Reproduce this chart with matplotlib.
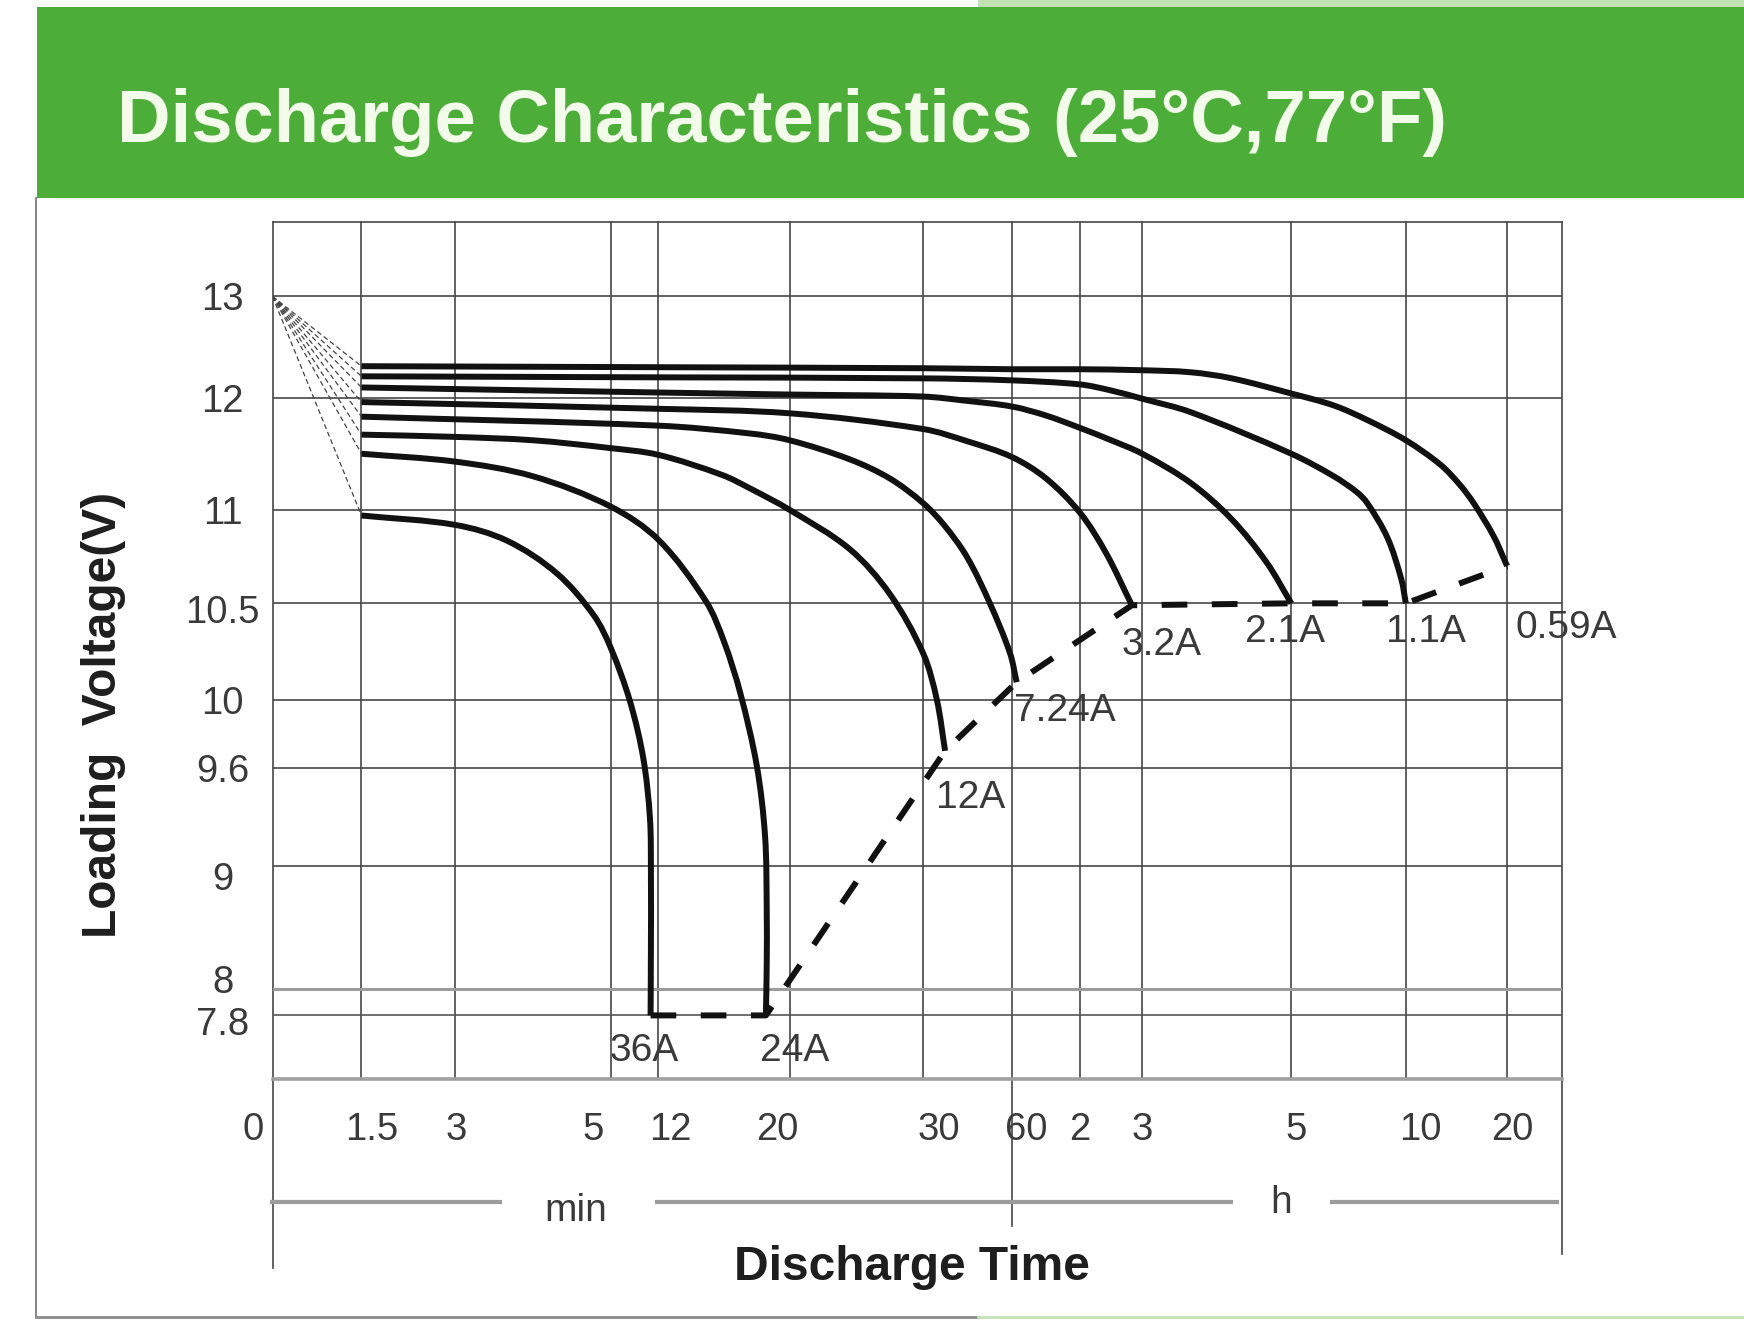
import numpy as np
import matplotlib
matplotlib.use('Agg')
import matplotlib.pyplot as plt
import matplotlib.transforms as mtransforms
from matplotlib.patches import Rectangle, PathPatch
from matplotlib.lines import Line2D
from matplotlib.path import Path

plt.rcParams['font.family'] = ['Liberation Sans', 'DejaVu Sans']

# --------------------------------------------------------------
# Axis breakpoints: the chart uses an uneven, hand-drawn time and
# voltage scale, so each labelled value gets its own position.
# --------------------------------------------------------------
TIME_BREAKS = [0, 1.5, 3, 5, 12, 20, 30, 60, 120, 180, 300, 600, 1200, 1500]   # minutes
TIME_POS = [0, 80, 164, 304, 347, 465, 585, 665, 726, 782, 916, 1019, 1110, 1159]
VOLT_BREAKS = [7.4, 7.8, 8, 9, 9.6, 10, 10.5, 11, 12, 13, 13.75]
VOLT_POS = [0, 57, 81, 191.5, 279.5, 341, 427.5, 511.5, 612.5, 703.5, 770]

x_ticks = [0, 1.5, 3, 5, 12, 20, 30, 60, 120, 180, 300, 600, 1200]
x_tick_labels = ['0', '1.5', '3', '5', '12', '20', '30', '60', '2', '3', '5', '10', '20']
y_ticks = [13, 12, 11, 10.5, 10, 9.6, 9, 8, 7.8]
y_tick_labels = ['13', '12', '11', '10.5', '10', '9.6', '9', '8', '7.8']

# open-circuit voltage every curve starts from
v_open = 13.0

# discharge curves: time (min) / voltage (V)
t_059 = [1.5, 12, 30, 60, 120, 180, 219, 252, 300, 411, 499, 600, 807, 922, 1002, 1120, 1200]
v_059 = [12.31, 12.30, 12.29, 12.28, 12.28, 12.27, 12.25, 12.19, 12.04, 11.93, 11.80, 11.62,
         11.40, 11.22, 11.06, 10.86, 10.70]

t_11 = [1.5, 12, 30, 60, 120, 150, 180, 219, 300, 411, 471, 499, 552, 588, 600]
v_11 = [12.21, 12.20, 12.19, 12.17, 12.13, 12.07, 11.99, 11.87, 11.50, 11.30, 11.16, 11.06,
        10.85, 10.63, 10.50]

t_21 = [1.5, 12, 20, 30, 45, 60, 90, 120, 150, 180, 219, 252, 280, 300]
v_21 = [12.10, 12.05, 12.03, 12.01, 11.97, 11.92, 11.84, 11.73, 11.62, 11.50,
        11.24, 10.95, 10.72, 10.50]

t_32 = [1.5, 12, 20, 30, 45, 60, 90, 120, 145, 170]
v_32 = [11.96, 11.90, 11.86, 11.72, 11.61, 11.47, 11.28, 10.985, 10.77, 10.49]

t_724 = [1.5, 12, 17.6, 20, 24.5, 27.5, 30, 37, 44.7, 52.5, 59.3, 64]
v_724 = [11.83, 11.75, 11.68, 11.62, 11.45, 11.28, 11.06, 10.92, 10.75, 10.50, 10.24, 10.09]

t_12 = [1.5, 3, 4, 5, 12, 15.9, 17.6, 20, 24.5, 27.5, 30, 34.6, 37.4]
v_12 = [11.67, 11.65, 11.62, 11.55, 11.49, 11.31, 11.19, 11.00, 10.79, 10.55, 10.24, 10.00, 9.70]

t_24 = [1.5, 3, 4, 5, 12, 14.9, 16, 17, 18, 18.5, 18.6, 18.6, 18.55]
v_24 = [11.50, 11.43, 11.30, 11.03, 10.84, 10.51, 10.30, 10.03, 9.61, 9.18, 8.65, 8.20, 7.80]

t_36 = [1.5, 3, 3.67, 4.31, 4.78, 5, 7.83, 9.79, 10.76, 10.9, 10.9, 10.85]
v_36 = [10.97, 10.92, 10.835, 10.66, 10.44, 10.27, 9.99, 9.655, 9.29, 8.94, 8.36, 7.80]

currents = ['36A', '24A', '12A', '7.24A', '3.2A', '2.1A', '1.1A', '0.59A']
curves = [(t_36, v_36), (t_24, v_24), (t_12, v_12), (t_724, v_724),
          (t_32, v_32), (t_21, v_21), (t_11, v_11), (t_059, v_059)]
# label placement relative to each curve end (points)
label_offsets = [(-4.8, -25.6), (20.8, -25.6), (18.4, -33.6), (34.4, -20.8),
                 (21.6, -28.8), (-4.8, -20.4), (14.4, -20.4), (42.4, -44.4)]

# per-label nudges (points) to mimic the original's placement
x_label_shift = [-13.6, 7.2, 0.8, -12.8, 8.8, -8.8, 11, 10, 0, 0, 3.2, 10.4, 4]
y_label_shift = [0, 0, 0, -4, 0, 0, -7, 7, -4]

GRID = '#474747'
CURVE = '#111111'
TXT = '#3a3a3a'


def t_fwd(t):
    return np.interp(t, TIME_BREAKS, TIME_POS)


def t_inv(p):
    return np.interp(p, TIME_POS, TIME_BREAKS)


def v_fwd(v):
    return np.interp(v, VOLT_BREAKS, VOLT_POS)


def v_inv(p):
    return np.interp(p, VOLT_POS, VOLT_BREAKS)


# --------------------------------------------------------------
# Smooth path through the read points (chord-length Hermite as
# cubic Bezier), built in scale space so the shape follows the axes.
# --------------------------------------------------------------
def smooth_path(t, v):
    p = np.column_stack([t_fwd(np.asarray(t, float)), v_fwd(np.asarray(v, float))])
    n = len(p)
    d = np.maximum(np.hypot(*np.diff(p, axis=0).T), 1e-6)
    m = np.zeros_like(p)
    m[0] = (p[1] - p[0]) / d[0]
    m[-1] = (p[-1] - p[-2]) / d[-1]
    for i in range(1, n - 1):
        m[i] = (p[i + 1] - p[i - 1]) / (d[i - 1] + d[i])
    verts = [p[0]]
    codes = [Path.MOVETO]
    for i in range(n - 1):
        c1 = p[i] + m[i] * d[i] / 3.0
        c2 = p[i + 1] - m[i + 1] * d[i] / 3.0
        verts += [c1, c2, p[i + 1]]
        codes += [Path.CURVE4] * 3
    verts = np.array(verts)
    data = np.column_stack([t_inv(verts[:, 0]), v_inv(verts[:, 1])])
    return Path(data, codes)


fig = plt.figure(figsize=(17.44, 13.21), dpi=100)
fig.patch.set_facecolor('white')

# green header banner + thin frame
fig.add_artist(Rectangle((0.021, 0.8499), 0.979, 0.145, transform=fig.transFigure,
                         facecolor='#4cae38', edgecolor='none'))
fig.add_artist(Rectangle((0.561, 0.9949), 0.439, 0.0051, transform=fig.transFigure,
                         facecolor='#c3e2b3', edgecolor='none'))
fig.add_artist(Line2D([0.0206, 0.0206], [0.003, 0.85], transform=fig.transFigure,
                      color='#8a8a8a', lw=1.5))
fig.add_artist(Line2D([0.0206, 0.561], [0.003, 0.003], transform=fig.transFigure,
                      color='#8a8a8a', lw=2))
fig.add_artist(Line2D([0.561, 1.0], [0.003, 0.003], transform=fig.transFigure,
                      color='#c3e2b3', lw=2))
fig.text(0.0671, 0.8922, 'Discharge Characteristics (25°C,77°F)', fontsize=53.5,
         fontweight='bold', color='#f3fbea', va='baseline', ha='left')

ax = fig.add_axes([0.15625, 0.18335, 0.73915, 0.64829])
ax.set_xscale('function', functions=(t_fwd, t_inv))
ax.set_yscale('function', functions=(v_fwd, v_inv))
ax.set_xlim(TIME_BREAKS[0], TIME_BREAKS[-1])
ax.set_ylim(VOLT_BREAKS[0], VOLT_BREAKS[-1])

# grid
for t in x_ticks[1:]:
    ext = -0.172 if t == 60 else 0
    ax.axvline(t, ymin=ext, ymax=1, color=GRID, lw=1.2, zorder=1, clip_on=False)
ax.axvline(0, ymin=-0.221, ymax=1, color=GRID, lw=1.2, zorder=1, clip_on=False)
ax.axvline(TIME_BREAKS[-1], ymin=-0.205, ymax=1, color=GRID, lw=1.2, zorder=1, clip_on=False)
for v in y_ticks:
    if v == 8:
        ax.axhline(v, color='#9c9c9c', lw=2.2, zorder=1)
    elif v == 7.8:
        ax.axhline(v, color='#555555', lw=1.2, zorder=1)
    else:
        ax.axhline(v, color=GRID, lw=1.2, zorder=1)

for side in ['left', 'right']:
    ax.spines[side].set_visible(False)
ax.spines['top'].set_color(GRID)
ax.spines['top'].set_linewidth(1.2)
ax.spines['bottom'].set_color('#a0a0a0')
ax.spines['bottom'].set_linewidth(2.6)

# fan of thin dashed lines from the open-circuit voltage
for t, v in curves:
    ax.plot([0, t[0]], [v_open, v[0]], color='#444444', lw=0.9,
            linestyle=(0, (4, 2.5)), zorder=2)

# discharge curves
for t, v in curves:
    ax.add_patch(PathPatch(smooth_path(t, v), facecolor='none', edgecolor=CURVE, lw=4.3,
                           capstyle='butt', joinstyle='round', zorder=3))

# end-of-discharge dashed line through each curve's last point
end_t = [t[-1] for t, v in curves]
end_v = [v[-1] for t, v in curves]
ax.plot(end_t, end_v, color=CURVE, lw=4.3, linestyle=(0, (4.3, 4.1)),
        dash_capstyle='butt', zorder=3)

for name, (t, v), off in zip(currents, curves, label_offsets):
    ax.annotate(name, xy=(t[-1], v[-1]), xytext=off, textcoords='offset points',
                ha='center', va='center', fontsize=28, color=TXT)

# ticks
ax.set_xticks(x_ticks, labels=x_tick_labels)
ax.set_yticks(y_ticks, labels=y_tick_labels)
ax.minorticks_off()
ax.tick_params(axis='x', length=0, labelsize=27.5, labelcolor=TXT, pad=24)
ax.tick_params(axis='y', length=0, labelsize=27.5, labelcolor=TXT, pad=36)
for lab, dx in zip(ax.get_xticklabels(), x_label_shift):
    lab.set_transform(lab.get_transform() + mtransforms.ScaledTranslation(dx / 72, 0, fig.dpi_scale_trans))
for lab, dy in zip(ax.get_yticklabels(), y_label_shift):
    lab.set_ha('center')
    lab.set_transform(lab.get_transform() + mtransforms.ScaledTranslation(0, dy / 72, fig.dpi_scale_trans))

# min / h unit bar below the time axis
bar_y = -0.1435
for x0, x1 in [(-0.002, 0.178), (0.297, 0.745), (0.820, 0.998)]:
    ax.plot([x0, x1], [bar_y, bar_y], transform=ax.transAxes, color='#9c9c9c',
            lw=3, clip_on=False, solid_capstyle='butt')
ax.text(0.2356, -0.166, 'min', transform=ax.transAxes, ha='center', va='baseline',
        fontsize=28, color=TXT)
ax.text(0.7826, -0.157, 'h', transform=ax.transAxes, ha='center', va='baseline',
        fontsize=28, color=TXT)

ax.text(0.496, -0.235, 'Discharge Time', transform=ax.transAxes, ha='center', va='baseline',
        fontsize=34.5, fontweight='bold', color='#1e1e1e')
ax.text(-0.131, 0.4253, 'Loading  Voltage(V)', transform=ax.transAxes, ha='center', va='center',
        rotation=90, fontsize=34.5, fontweight='bold', color='#1e1e1e')

fig.savefig('out.png', dpi=100)
